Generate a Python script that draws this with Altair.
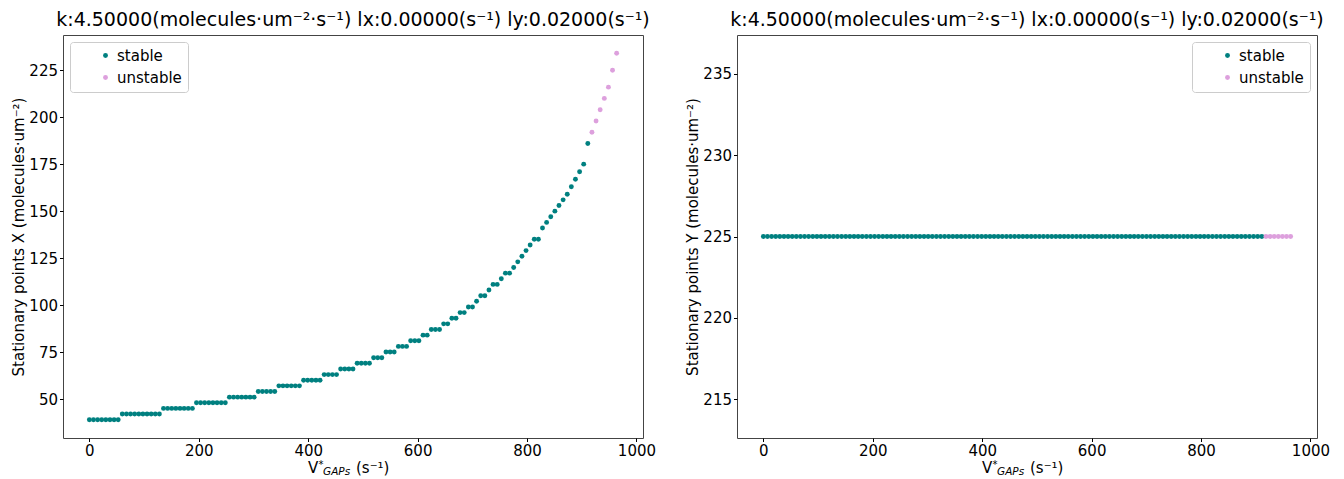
import altair as alt
import pandas as pd

# ---------------- data ----------------
V_GAPS = [0, 7.5, 15.1, 22.6, 30.1, 37.7, 45.2, 52.7, 60.2, 67.8,
          75.3, 82.8, 90.4, 97.9, 105.4, 113.0, 120.5, 128.0, 135.5, 143.1,
          150.6, 158.1, 165.7, 173.2, 180.7, 188.3, 195.8, 203.3, 210.8, 218.4,
          225.9, 233.4, 241.0, 248.5, 256.0, 263.6, 271.1, 278.6, 286.1, 293.7,
          301.2, 308.7, 316.3, 323.8, 331.3, 338.9, 346.4, 353.9, 361.4, 369.0,
          376.5, 384.0, 391.6, 399.1, 406.6, 414.2, 421.7, 429.2, 436.7, 444.3,
          451.8, 459.3, 466.9, 474.4, 481.9, 489.5, 497.0, 504.5, 512.0, 519.6,
          527.1, 534.6, 542.2, 549.7, 557.2, 564.8, 572.3, 579.8, 587.3, 594.9,
          602.4, 609.9, 617.5, 625.0, 632.5, 640.1, 647.6, 655.1, 662.6, 670.2,
          677.7, 685.2, 692.8, 700.3, 707.8, 715.4, 722.9, 730.4, 737.9, 745.5,
          753.0, 760.5, 768.1, 775.6, 783.1, 790.7, 798.2, 805.7, 813.2, 820.8,
          828.3, 835.8, 843.4, 850.9, 858.4, 866.0, 873.5, 881.0, 888.5, 896.1,
          903.6, 911.1, 918.7, 926.2, 933.7, 941.3, 948.8, 956.3, 963.8]

X_STATIONARY = [39, 39, 39, 39, 39, 39, 39, 39,
                42, 42, 42, 42, 42, 42, 42, 42, 42, 42,
                45, 45, 45, 45, 45, 45, 45, 45,
                48, 48, 48, 48, 48, 48, 48, 48,
                51, 51, 51, 51, 51, 51, 51,
                54, 54, 54, 54, 54,
                57, 57, 57, 57, 57, 57,
                60, 60, 60, 60, 60,
                63, 63, 63, 63,
                66, 66, 66, 66,
                69, 69, 69, 69,
                72, 72, 72,
                75, 75, 75,
                78, 78, 78,
                81, 81, 81,
                84, 84,
                87, 87, 87,
                90, 90,
                93, 93,
                96, 96,
                99, 99,
                102,
                105, 105,
                108,
                111, 111,
                114,
                117, 117,
                120, 123, 126, 129, 132,
                135, 135,
                141, 144, 147, 150, 153, 156, 159, 163, 167, 171, 175, 186,
                192, 198, 204, 210, 216, 225, 234]

Y_STATIONARY = [225, 225, 225, 225, 225, 225, 225, 225, 225, 225,
                225, 225, 225, 225, 225, 225, 225, 225, 225, 225,
                225, 225, 225, 225, 225, 225, 225, 225, 225, 225,
                225, 225, 225, 225, 225, 225, 225, 225, 225, 225,
                225, 225, 225, 225, 225, 225, 225, 225, 225, 225,
                225, 225, 225, 225, 225, 225, 225, 225, 225, 225,
                225, 225, 225, 225, 225, 225, 225, 225, 225, 225,
                225, 225, 225, 225, 225, 225, 225, 225, 225, 225,
                225, 225, 225, 225, 225, 225, 225, 225, 225, 225,
                225, 225, 225, 225, 225, 225, 225, 225, 225, 225,
                225, 225, 225, 225, 225, 225, 225, 225, 225, 225,
                225, 225, 225, 225, 225, 225, 225, 225, 225, 225,
                225, 225, 225, 225, 225, 225, 225, 225, 225]

N_STABLE = 122  # first 122 points are stable, the rest unstable
CATEGORIES = ["stable", "unstable"]
COLORS = ["#008080", "#DDA0DD"]

X_TICKS = [0, 200, 400, 600, 800, 1000]
LEFT_Y_TICKS = [50, 75, 100, 125, 150, 175, 200, 225]
RIGHT_Y_TICKS = [215, 220, 225, 230, 235]

TITLE = "k:4.50000(molecules·um⁻²·s⁻¹) lx:0.00000(s⁻¹) ly:0.02000(s⁻¹)"
LEFT_Y_TITLE = "Stationary points X (molecules·um⁻²)"
RIGHT_Y_TITLE = "Stationary points Y (molecules·um⁻²)"

FONT = "DejaVu Sans"
W, H = 580, 403

stability = [CATEGORIES[0] if i < N_STABLE else CATEGORIES[1] for i in range(len(V_GAPS))]
df_left = pd.DataFrame({"v": V_GAPS, "val": X_STATIONARY, "stability": stability})
df_right = pd.DataFrame({"v": V_GAPS, "val": Y_STATIONARY, "stability": stability})


def xtitle_piece(text, x, y, size, style="normal"):
    return alt.Chart(pd.DataFrame({"t": [text]})).mark_text(
        align="left", baseline="middle", font=FONT, fontSize=size,
        fontStyle=style, color="black"
    ).encode(text="t:N", x=alt.value(x), y=alt.value(y))


def panel(df, ydomain, yticks, ytitle, legend_orient):
    pts = alt.Chart(df).mark_circle(size=24, opacity=1).encode(
        x=alt.X("v:Q",
                scale=alt.Scale(domain=[-48.19, 1011.99], nice=False, zero=False),
                axis=alt.Axis(values=X_TICKS, title=None, format="d")),
        y=alt.Y("val:Q",
                scale=alt.Scale(domain=ydomain, nice=False, zero=False),
                axis=alt.Axis(values=yticks, title=ytitle, titlePadding=2, format="d")),
        color=alt.Color("stability:N",
                        scale=alt.Scale(domain=CATEGORIES, range=COLORS),
                        legend=alt.Legend(orient=legend_orient, title=None, offset=7,
                                          padding=6, symbolType="circle", symbolSize=24,
                                          symbolOffset=22, labelOffset=4,
                                          labelFontSize=15, labelFont=FONT,
                                          labelColor="black", rowPadding=6,
                                          strokeColor="#cccccc", fillColor="white",
                                          cornerRadius=3, symbolStrokeWidth=0)),
    )
    cx = W / 2
    layers = [
        pts,
        xtitle_piece("V", cx - 45, H + 30, 15),
        xtitle_piece("*", cx - 34.5, H + 27, 10),
        xtitle_piece("GAPs", cx - 30, H + 34, 10.5, "italic"),
        xtitle_piece("(s⁻¹)", cx + 3, H + 30, 15),
    ]
    return alt.layer(*layers).properties(
        width=W, height=H,
        title=alt.Title(TITLE, anchor="middle"),
    )


left = panel(df_left, [29.25, 243.75], LEFT_Y_TICKS, LEFT_Y_TITLE, "top-left")
right = panel(df_right, [212.625, 237.375], RIGHT_Y_TICKS, RIGHT_Y_TITLE, "top-right")

chart = alt.hconcat(left, right, spacing=28).resolve_scale(color="independent").configure_view(
    stroke="#444444", strokeWidth=1
).configure_axis(
    domain=False, grid=False, tickColor="black", tickSize=3.5, tickWidth=1,
    labelFont=FONT, labelFontSize=15, labelColor="black", labelPadding=2,
    titleFont=FONT, titleFontSize=15, titleFontWeight="normal", titleColor="black",
).configure_title(
    font=FONT, fontSize=19, fontWeight="normal", color="black", offset=5
).properties(padding={"left": 3, "top": 2, "right": 5, "bottom": 5})

chart.save("out.html", embed_options={"renderer": "svg", "actions": False})
